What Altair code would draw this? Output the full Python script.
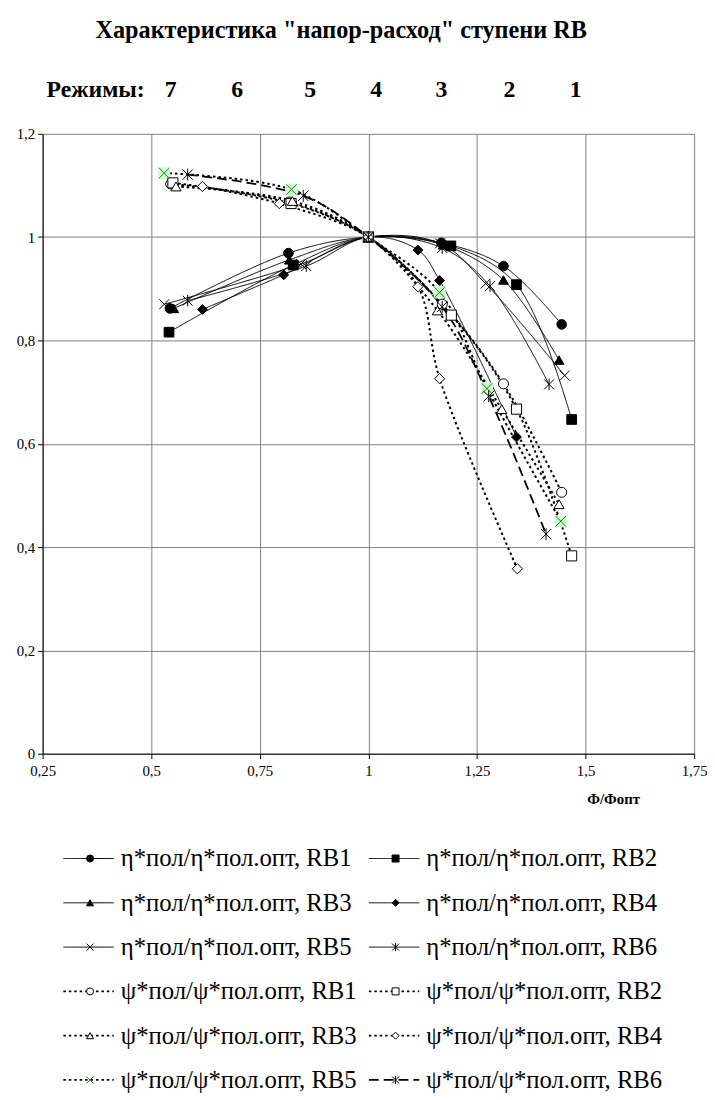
import altair as alt
import pandas as pd

# ---------------- data ----------------
series_keys = ["eta1", "eta2", "eta3", "eta4", "eta5", "eta6",
               "psi1", "psi2", "psi3", "psi4", "psi5", "psi6"]
series_labels = ["η*пол/η*пол.опт, RB1", "η*пол/η*пол.опт, RB2",
                 "η*пол/η*пол.опт, RB3", "η*пол/η*пол.опт, RB4",
                 "η*пол/η*пол.опт, RB5", "η*пол/η*пол.опт, RB6",
                 "ψ*пол/ψ*пол.опт, RB1", "ψ*пол/ψ*пол.опт, RB2",
                 "ψ*пол/ψ*пол.опт, RB3", "ψ*пол/ψ*пол.опт, RB4",
                 "ψ*пол/ψ*пол.опт, RB5", "ψ*пол/ψ*пол.опт, RB6"]
series_kind = ["eta"] * 6 + ["psi"] * 5 + ["psi6"]

phi_eta_rb1 = [0.543, 0.816, 1.0, 1.168, 1.311, 1.445]
eta_rb1 = [0.862, 0.969, 1.0, 0.989, 0.944, 0.831]
phi_eta_rb2 = [0.541, 0.827, 1.0, 1.190, 1.341, 1.468]
eta_rb2 = [0.816, 0.946, 1.0, 0.983, 0.908, 0.647]
phi_eta_rb3 = [0.552, 0.818, 1.0, 1.172, 1.311, 1.439]
eta_rb3 = [0.862, 0.956, 1.0, 0.985, 0.917, 0.762]
phi_eta_rb4 = [0.618, 0.805, 1.0, 1.114, 1.164, 1.341]
eta_rb4 = [0.860, 0.927, 1.0, 0.975, 0.916, 0.613]
phi_eta_rb5 = [0.530, 0.845, 1.0, 1.165, 1.270, 1.452]
eta_rb5 = [0.870, 0.948, 1.0, 0.988, 0.910, 0.732]
phi_eta_rb6 = [0.584, 0.857, 1.0, 1.170, 1.280, 1.416]
eta_rb6 = [0.877, 0.944, 1.0, 0.979, 0.905, 0.715]

phi_psi_rb1 = [0.545, 0.818, 1.0, 1.170, 1.311, 1.445]
psi_rb1 = [1.103, 1.068, 1.0, 0.870, 0.716, 0.506]
phi_psi_rb2 = [0.550, 0.822, 1.0, 1.191, 1.341, 1.468]
psi_rb2 = [1.105, 1.065, 1.0, 0.849, 0.667, 0.383]
phi_psi_rb3 = [0.557, 0.825, 1.0, 1.159, 1.307, 1.439]
psi_rb3 = [1.098, 1.070, 1.0, 0.858, 0.667, 0.483]
phi_psi_rb4 = [0.618, 0.795, 1.0, 1.114, 1.164, 1.343]
psi_rb4 = [1.098, 1.065, 1.0, 0.904, 0.726, 0.358]
phi_psi_rb5 = [0.530, 0.823, 1.0, 1.164, 1.273, 1.443]
psi_rb5 = [1.124, 1.092, 1.0, 0.893, 0.707, 0.450]
phi_psi_rb6 = [0.584, 0.850, 1.0, 1.170, 1.277, 1.409]
psi_rb6 = [1.121, 1.080, 1.0, 0.865, 0.692, 0.425]

mode_labels = ["7", "6", "5", "4", "3", "2", "1"]
mode_phi = [0.545, 0.698, 0.866, 1.018, 1.168, 1.325, 1.477]

x_ticks = [0.25, 0.5, 0.75, 1.0, 1.25, 1.5, 1.75]
y_ticks = [0, 0.2, 0.4, 0.6, 0.8, 1.0, 1.2]

title_text = 'Характеристика "напор-расход" ступени RB'
modes_text = "Режимы:"
x_title = "Ф/Фопт"

# ---------------- tables ----------------
xs = [phi_eta_rb1, phi_eta_rb2, phi_eta_rb3, phi_eta_rb4, phi_eta_rb5, phi_eta_rb6,
      phi_psi_rb1, phi_psi_rb2, phi_psi_rb3, phi_psi_rb4, phi_psi_rb5, phi_psi_rb6]
ys = [eta_rb1, eta_rb2, eta_rb3, eta_rb4, eta_rb5, eta_rb6,
      psi_rb1, psi_rb2, psi_rb3, psi_rb4, psi_rb5, psi_rb6]
rows = []
for key, kind, xv, yv in zip(series_keys, series_kind, xs, ys):
    for a, b in zip(xv, yv):
        rows.append({"series": key, "kind": kind, "phi": a, "val": b})
df = pd.DataFrame(rows)

leg_rows = []
for i, (key, lab, kind) in enumerate(zip(series_keys, series_labels, series_kind)):
    grp = i // 6
    j = i % 6
    leg_rows.append({"series": key, "label": lab, "kind": kind,
                     "col": j % 2, "row": grp * 3 + j // 2})
leg_df = pd.DataFrame(leg_rows)

mode_df = pd.DataFrame({"phi": mode_phi, "label": mode_labels})
text_df = pd.DataFrame({"t": [title_text], "m": [modes_text]})

# ---------------- styles ----------------
SERIF = "Liberation Serif"
X_PATH = "M-1,-1L1,1M-1,1L1,-1"
STAR_PATH = "M-1,-1L1,1M-1,1L1,-1M0,-1.15L0,1.15"
shapes = ["circle", "square", "triangle-up", "diamond", X_PATH, STAR_PATH,
          "circle", "square", "triangle-up", "diamond", X_PATH, STAR_PATH]
fills = ["black"] * 6 + ["white"] * 4 + ["transparent", "transparent"]
strokes = ["black"] * 10 + ["#2f6f2f", "black"]
sizes = [95, 110, 85, 70, 140, 140, 55, 70, 60, 50, 170, 120]

shape_scale = alt.Scale(domain=series_keys, range=shapes)
fill_scale = alt.Scale(domain=series_keys, range=fills)
stroke_scale = alt.Scale(domain=series_keys, range=strokes)
line_styles = {"eta": ([1, 0], 1.0, 1.0), "psi": ([2.5, 3], 2.0, 1.8),
               "psi6": ([10, 5], 1.8, 1.8)}

label_expr = "replace(toString(datum.value), '.', ',')"

x_enc = alt.X("phi:Q", scale=alt.Scale(domain=[0.25, 1.75], nice=False, zero=False),
              axis=alt.Axis(values=x_ticks, labelExpr=label_expr, title=x_title,
                            titleX=577, titleY=45, titleAlign="center",
                            titleBaseline="middle", titleFont=SERIF,
                            titleFontSize=15, titleFontWeight="bold",
                            labelPadding=5, labelFlush=False))
y_enc = alt.Y("val:Q", scale=alt.Scale(domain=[0, 1.2], nice=False),
              axis=alt.Axis(values=y_ticks, labelExpr=label_expr, title=None,
                            labelPadding=3))

base = alt.Chart(df)
line_layers = []
for kind, (dash, sw, _) in line_styles.items():
    line_layers.append(
        base.transform_filter(alt.datum.kind == kind).mark_line(
            interpolate="catmull-rom", color="black", strokeDash=dash, strokeWidth=sw
        ).encode(x=x_enc, y=y_enc, detail="series:N")
    )
green_bg = base.transform_filter(alt.datum.series == "psi5").mark_square(
    size=150, color="#ccffcc", opacity=1).encode(x="phi:Q", y="val:Q")
points = base.mark_point(filled=True, strokeWidth=1, opacity=1).encode(
    x="phi:Q", y="val:Q",
    shape=alt.Shape("series:N", scale=shape_scale, legend=None),
    fill=alt.Fill("series:N", scale=fill_scale, legend=None),
    stroke=alt.Stroke("series:N", scale=stroke_scale, legend=None),
    size=alt.Size("series:N", scale=alt.Scale(domain=series_keys, range=sizes), legend=None),
)
modes = alt.Chart(mode_df).mark_text(font=SERIF, fontSize=24, fontWeight="bold",
                                     baseline="middle").encode(
    x="phi:Q", y=alt.value(-44), text="label:N")
modes_lbl = alt.Chart(text_df).mark_text(font=SERIF, fontSize=24, fontWeight="bold",
                                         baseline="middle", align="left").encode(
    x=alt.value(4), y=alt.value(-44), text="m:N")
title = alt.Chart(text_df).mark_text(font=SERIF, fontSize=24.5, fontWeight="bold",
                                     baseline="middle", align="center").encode(
    x=alt.value(302), y=alt.value(-104), text="t:N")

main = alt.layer(*line_layers, green_bg, points, modes, modes_lbl, title)

lx = alt.X("col:Q", scale=alt.Scale(domain=[0, 1], range=[48, 357]), axis=None)
ly = alt.Y("row:Q", scale=alt.Scale(domain=[0, 5], range=[733, 957]), axis=None)
leg_base = alt.Chart(leg_df)
leg_rules = []
for kind, (dash, _, lw) in line_styles.items():
    leg_rules.append(
        leg_base.transform_filter(alt.datum.kind == kind).mark_rule(
            color="black", xOffset=-27, x2Offset=24, strokeDash=dash, strokeWidth=lw
        ).encode(x=lx, x2="col:Q", y=ly)
    )
leg_pts = leg_base.mark_point(filled=True, strokeWidth=1, opacity=1,
                              size=50).encode(
    x=lx, y=ly,
    shape=alt.Shape("series:N", scale=shape_scale, legend=None),
    fill=alt.Fill("series:N", scale=fill_scale, legend=None),
    stroke=alt.Stroke("series:N", scale=stroke_scale, legend=None),
)
leg_txt = leg_base.mark_text(align="left", baseline="middle", dx=31, font=SERIF,
                             fontSize=25, color="black").encode(
    x=lx, y=ly, text="label:N")
legend = alt.layer(*leg_rules, leg_pts, leg_txt)

chart = alt.layer(main, legend).resolve_scale(x="independent", y="independent").properties(
    width=659, height=627,
    autosize=alt.AutoSizeParams(type="none"),
    padding={"left": 35, "top": 121, "right": 13, "bottom": 343},
).configure_view(strokeWidth=0).configure_axis(
    gridColor="#808080", gridOpacity=1, domainColor="black", tickColor="black",
    tickSize=5, labelFont=SERIF, labelFontSize=15, labelColor="black",
    domainWidth=1, gridWidth=1,
)

chart.save("out.html", embed_options={"renderer": "svg", "actions": False})
